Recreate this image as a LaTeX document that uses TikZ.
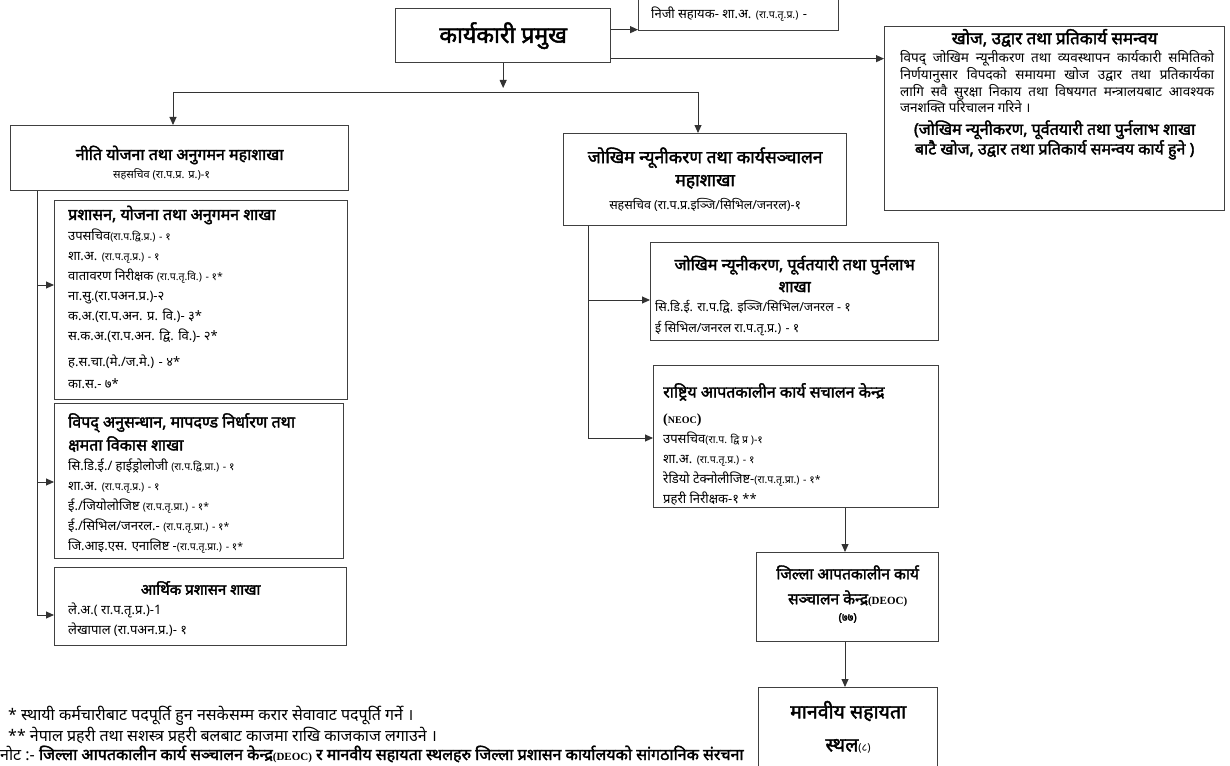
\documentclass[tikz,border=0pt]{standalone}
\usepackage{fontspec}
\setmainfont[Script=Devanagari, BoldFont={Noto Sans}, BoldFeatures={FakeBold=2.2}]{Noto Sans}
\newfontfamily\romanfont{Liberation Serif}
\usetikzlibrary{arrows.meta,positioning}
\tikzset{every node/.style={font=\fontsize{13}{20}\selectfont}}
\newcommand{\lat}[1]{{\romanfont\bfseries #1}}
\newcommand{\sm}[1]{{\fontsize{10.5}{12}\selectfont #1}}

\begin{document}
\begin{tikzpicture}[x=1pt,y=-1pt,
  >={Triangle[length=8pt,width=7pt]},
  frame/.style={draw=black!75, line width=1.3pt, anchor=north west, inner sep=0pt},
  body/.style={inner sep=0pt, align=left},
  head/.style={inner sep=0pt, align=center, font=\bfseries\fontsize{16}{23}\selectfont},
  link/.style={draw=black!80, line width=0.9pt}
]
\useasboundingbox (0,0) rectangle (1230,765);

% top level
\node[frame, minimum width=215pt, minimum height=54pt,
  font=\bfseries\fontsize{23}{26}\selectfont] (exec) at (395,8) {कार्यकारी प्रमुख};
\node[frame, minimum width=200pt, minimum height=34pt] (pa) at (638,-4) {};
\node[body, right=13pt of pa.west] (pa-t) {निजी  सहायक- शा.अ. \sm{(रा.प.तृ.प्र.)} -};

\node[frame, minimum width=340pt, minimum height=184pt] (R) at (884,26) {};
\node[head, font=\bfseries\fontsize{17}{18}\selectfont] (R-t) at ([yshift=-12pt]R.north)
  {खोज, उद्वार  तथा प्रतिकार्य समन्वय};
\node[body, anchor=north west, font=\fontsize{13.5}{14.5}\selectfont] (R-p)
  at ([xshift=16pt,yshift=-24pt]R.north west)
  {\makebox[314pt][s]{विपद् जोखिम न्यूनीकरण तथा व्यवस्थापन कार्यकारी समितिको}\\
   \makebox[314pt][s]{निर्णयानुसार विपदको समायमा खोज उद्वार तथा प्रतिकार्यका}\\
   \makebox[314pt][s]{लागि सवै सुरक्षा निकाय तथा विषयगत मन्त्रालयबाट  आवश्यक}\\
   जनशक्ति परिचालन गरिने ।};
\node[head, font=\bfseries\fontsize{16}{17}\selectfont] (R-b) at ([yshift=-114pt]R.north)
  {(जोखिम न्यूनीकरण, पूर्वतयारी तथा पुर्नलाभ  शाखा\\
   बाटै खोज, उद्वार  तथा प्रतिकार्य समन्वय कार्य हुने )};

\coordinate (pa-in) at ([yshift=6pt]exec.east);
\coordinate (r-out) at ([yshift=-23pt]exec.east);
\draw[link,->] (pa-in) -- (pa-in -| pa.west);
\draw[link,->] (r-out) -- (r-out -| R.west);

% branches
\coordinate (bus-tip) at (0,88);
\coordinate (bus-l) at (173,92);
\coordinate (bus-r) at (698,92);
\draw[link,->] (exec.south) -- (exec.south |- bus-tip);
\draw[link] (bus-l) -- (bus-r);

% left column
\node[frame, minimum width=338pt, minimum height=65pt] (L0) at (10,125) {};
\node[head] (L0-t) at ([yshift=-30pt]L0.north) {नीति योजना तथा अनुगमन महाशाखा};
\node[inner sep=0pt, font=\fontsize{11}{12}\selectfont] (L0-s) at ([xshift=-18pt,yshift=-49pt]L0.north)
  {सहसचिव (रा.प.प्र. प्र.)-१};

\node[frame, minimum width=293pt, minimum height=199pt] (L1) at (54,200) {};
\node[head, anchor=west] (L1-t) at ([xshift=14pt,yshift=-15pt]L1.north west)
  {प्रशासन, योजना तथा अनुगमन  शाखा};
\node[body, anchor=north west] (L1-b) at ([xshift=14pt,yshift=-29pt]L1.north west)
  {उपसचिव\sm{(रा.प.द्वि.प्र.) - १}\\
   शा.अ. \sm{(रा.प.तृ.प्र.) - १}\\
   वातावरण  निरीक्षक \sm{(रा.प.तृ.वि.) - १*}\\
   ना.सु.(रा.पअन.प्र.)-२\\
   क.अ.(रा.प.अन. प्र. वि.)-  ३*\\
   स.क.अ.(रा.प.अन. द्वि. वि.)-  २*\\[6pt]
   ह.स.चा.(मे./ज.मे.) - ४*\\[2pt]
   का.स.- ७*};

\node[frame, minimum width=289pt, minimum height=155pt] (L2) at (54,403) {};
\node[head, align=left, anchor=north west] (L2-t) at ([xshift=14pt,yshift=-10pt]L2.north west)
  {विपद् अनुसन्धान, मापदण्ड निर्धारण   तथा\\ क्षमता विकास शाखा};
\node[body, anchor=north west] (L2-b) at ([xshift=14pt,yshift=-56pt]L2.north west)
  {सि.डि.ई./ हाईड्रोलोजी \sm{(रा.प.द्वि.प्रा.) - १}\\
   शा.अ. \sm{(रा.प.तृ.प्र.) - १}\\
   ई./जियोलोजिष्ट  \sm{(रा.प.तृ.प्रा.) - १*}\\
   ई./सिभिल/जनरल.- \sm{(रा.प.तृ.प्रा.) - १*}\\
   जि.आइ.एस.  एनालिष्ट  -\sm{(रा.प.तृ.प्रा.) - १*}};

\node[frame, minimum width=292pt, minimum height=78pt] (L3) at (54,567) {};
\node[head, font=\bfseries\fontsize{15}{18}\selectfont] (L3-t) at ([yshift=-21pt]L3.north)
  {आर्थिक प्रशासन शाखा};
\node[body, anchor=north west] (L3-b) at ([xshift=14pt,yshift=-36pt]L3.north west)
  {ले.अ.( रा.प.तृ.प्र.)-1\\ लेखापाल  (रा.पअन.प्र.)- १};

\coordinate (l1-in) at (37,285);
\coordinate (l2-in) at (37,482);
\coordinate (l3-in) at (37,615);
\draw[link,->] (bus-l) -- (bus-l |- L0.north);
\draw[link] (L0.south -| l1-in) -- (l3-in);
\draw[link,->] (l1-in) -- (l1-in -| L1.west);
\draw[link,->] (l2-in) -- (l2-in -| L2.west);
\draw[link,->] (l3-in) -- (l3-in -| L3.west);

% right column
\node[frame, minimum width=283pt, minimum height=92pt] (M0) at (563,133) {};
\node[head, font=\bfseries\fontsize{17.5}{23}\selectfont] (M0-t) at ([yshift=-35pt]M0.north)
  {जोखिम न्यूनीकरण तथा कार्यसञ्चालन\\ महाशाखा};
\node[inner sep=0pt, font=\fontsize{12.5}{14}\selectfont] (M0-s) at ([yshift=-72pt]M0.north)
  {सहसचिव (रा.प.प्र.इञ्जि/सिभिल/जनरल)-१};

\node[frame, minimum width=288pt, minimum height=98pt] (M1) at (650,242) {};
\node[head, font=\bfseries\fontsize{16}{22}\selectfont] (M1-t) at ([yshift=-32pt]M1.north)
  {जोखिम न्यूनीकरण, पूर्वतयारी तथा पुर्नलाभ\\ शाखा};
\node[body, anchor=north west, font=\fontsize{12.5}{21}\selectfont] (M1-b)
  at ([xshift=5pt,yshift=-58pt]M1.north west)
  {सि.डि.ई. रा.प.द्वि. इञ्जि/सिभिल/जनरल - १\\ ई सिभिल/जनरल रा.प.तृ.प्र.) - १};

\node[frame, minimum width=285pt, minimum height=142pt] (M2) at (653,365) {};
\node[head, anchor=west] (M2-t) at ([xshift=10pt,yshift=-27pt]M2.north west)
  {राष्ट्रिय आपतकालीन कार्य सचालन केन्द्र};
\node[inner sep=0pt, anchor=west] (M2-n) at ([xshift=10pt,yshift=-55pt]M2.north west)
  {\lat{\fontsize{14}{16}\selectfont(\fontsize{10}{12}\selectfont NEOC\fontsize{14}{16}\selectfont)}};
\node[body, anchor=north west] (M2-b) at ([xshift=10pt,yshift=-67pt]M2.north west)
  {उपसचिव\sm{(रा.प. द्वि प्र )-१}\\
   शा.अ. \sm{(रा.प.तृ.प्र.) - १}\\
   रेडियो टेक्नोलीजिष्ट-\sm{(रा.प.तृ.प्रा.) - १*}\\
   प्रहरी निरीक्षक-१ **};

\node[frame, minimum width=182pt, minimum height=89pt] (M3) at (756,552) {};
\node[head, font=\bfseries\fontsize{15.5}{25}\selectfont] (M3-a) at ([yshift=-34pt]M3.north)
  {जिल्ला आपतकालीन कार्य\\ सञ्चालन केन्द्र{\fontsize{11}{12}\selectfont\lat{(DEOC)}}};
\node[head, font=\bfseries\fontsize{11}{12}\selectfont] (M3-b) at ([yshift=-66pt]M3.north) {(७७)};

\node[frame, minimum width=179pt, minimum height=95pt] (M4) at (758,687) {};
\node[head, font=\bfseries\fontsize{19.5}{33}\selectfont] (M4-a) at ([yshift=-40pt]M4.north)
  {मानवीय सहायता\\ स्थल{\mdseries\fontsize{11}{12}\selectfont(८)}};

\coordinate (m-x) at (588,0);
\coordinate (m1-in) at (588,300);
\coordinate (m2-in) at (588,438);
\coordinate (m3-x) at (845,0);
\draw[link,->] (bus-r) -- (bus-r |- M0.north);
\draw[link] (M0.south -| m-x) -- (m2-in);
\draw[link,->] (m1-in) -- (m1-in -| M1.west);
\draw[link,->] (m2-in) -- (m2-in -| M2.west);
\draw[link,->] (M2.south -| m3-x) -- (M3.north -| m3-x);
\draw[link,->] (M3.south -| m3-x) -- (M4.north -| m3-x);

% notes
\node[anchor=west, inner sep=0pt, font=\fontsize{16}{18}\selectfont] (fn1) at (8,716)
  {* स्थायी कर्मचारीबाट पदपूर्ति हुन नसकेसम्म करार सेवावाट पदपूर्ति गर्ने ।};
\node[anchor=west, inner sep=0pt, font=\fontsize{16}{18}\selectfont] (fn2) at (8,735)
  {** नेपाल प्रहरी तथा सशस्त्र प्रहरी बलबाट काजमा राखि काजकाज लगाउने ।};
\node[anchor=west, inner sep=0pt, font=\fontsize{16}{18}\selectfont] (fn3) at (0,754)
  {नोट :- \textbf{जिल्ला आपतकालीन कार्य सञ्चालन केन्द्र{\fontsize{11}{12}\selectfont\lat{(DEOC)}} र मानवीय सहायता स्थलहरु जिल्ला प्रशासन कार्यालयको सांगठानिक संरचना}};
\end{tikzpicture}
\end{document}
